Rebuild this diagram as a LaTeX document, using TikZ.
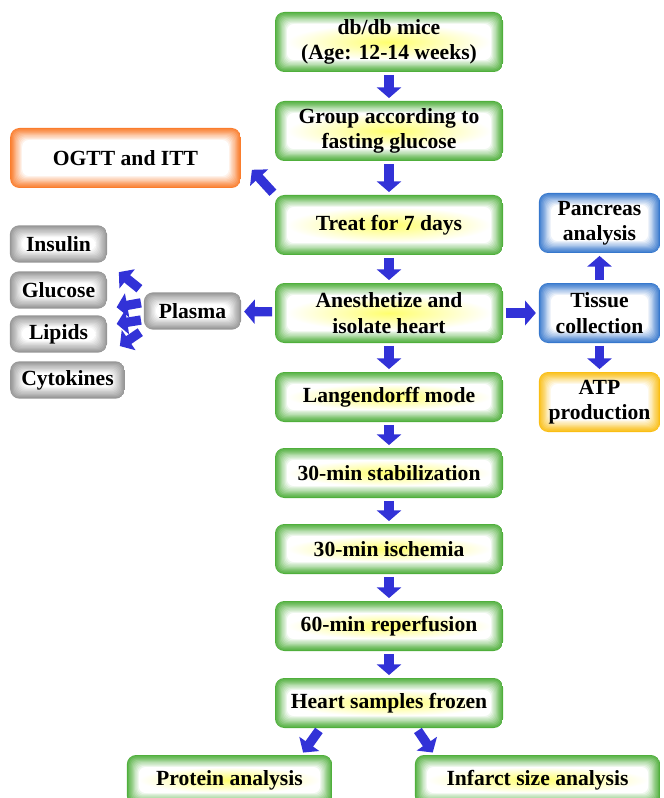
\documentclass[tikz,border=0pt]{standalone}
\usepackage{fontspec}
\setmainfont{Liberation Serif}
\usetikzlibrary{arrows.meta,calc}
\definecolor{boxgreen}{RGB}{80,175,60}
\definecolor{boxorange}{RGB}{250,125,45}
\definecolor{boxblue}{RGB}{55,120,205}
\definecolor{boxgray}{RGB}{150,150,150}
\definecolor{boxgold}{RGB}{250,190,20}
\definecolor{arrowblue}{RGB}{50,50,215}
\definecolor{glowyellow}{RGB}{255,255,110}
\tikzset{glowfill/.style 2 args={path picture={
    \fill[#1] (path picture bounding box.south west) rectangle (path picture bounding box.north east);
    \foreach \k in {1,...,10}{
        \pgfmathsetmacro\mix{100-10*\k}
        \fill[#1!\mix!white, rounded corners=5pt] ($(path picture bounding box.south west)+(\k*0.9pt,\k*0.9pt)$) rectangle ($(path picture bounding box.north east)-(\k*0.9pt,\k*0.9pt)$);
    }
    \shade[inner color=#2, outer color=white] ($(path picture bounding box.south west)+(9pt,9pt)$) rectangle ($(path picture bounding box.north east)-(9pt,9pt)$);
}}}
\tikzstyle{line} = [draw=arrowblue, line width=7pt, -{Triangle[length=8pt,width=18pt]}, shorten <=2pt, shorten >=2pt]
\tikzstyle{box} = [fill=white, rounded corners=7pt, align=center, inner sep=0pt, font=\bfseries\fontsize{16.2}{19}\selectfont]
\tikzstyle{stage} = [box, glowfill={boxgreen}{glowyellow}, minimum width=171pt, minimum height=45pt]
\tikzstyle{shortstage} = [stage, minimum height=37.5pt]
\tikzstyle{sample} = [box, glowfill={boxgray}{white}, minimum width=73pt, minimum height=28pt]
\tikzstyle{organ} = [box, glowfill={boxblue}{white}, minimum width=91pt, minimum height=45pt]

\begin{document}
\begin{tikzpicture}[x=0.75pt, y=-0.75pt]
    \useasboundingbox (0,0) rectangle (663,798);
    % main flow
    \node[stage] (mice) at (389,42) {db/db mice\\(Age: 12-14 weeks)};
    \node[stage] (group) at (389,131) {Group according to\\fasting glucose};
    \node[stage] (treat) at (389,225) {Treat for 7 days};
    \node[stage] (anesth) at (389,313) {Anesthetize and\\isolate heart};
    \node[shortstage] (lang) at (389,397) {Langendorff mode};
    \node[shortstage] (stab) at (389,473) {30-min stabilization};
    \node[shortstage] (isch) at (389,549) {30-min ischemia};
    \node[shortstage] (reper) at (389,626) {60-min reperfusion};
    \node[shortstage] (frozen) at (389,703) {Heart samples frozen};
    \node[shortstage, minimum width=154pt] (protein) at (229.5,780) {Protein analysis};
    \node[shortstage, minimum width=184pt] (infarct) at (537.5,780) {Infarct size analysis};
    % left side
    \node[box, glowfill={boxorange}{white}, minimum width=173pt, minimum height=45pt] (ogtt) at (125.5,158) {OGTT and ITT};
    \node[sample] (plasma) at (192.5,311) {Plasma};
    \node[sample] (insulin) at (58.5,244) {Insulin};
    \node[sample] (glucose) at (58.5,290) {Glucose};
    \node[sample] (lipids) at (58.5,334) {Lipids};
    \node[sample, minimum width=86pt] (cyto) at (67.5,380) {Cytokines};
    % right side
    \node[organ] (pancreas) at (599.5,223) {Pancreas\\analysis};
    \node[organ] (tissue) at (599.5,313) {Tissue\\collection};
    \node[box, glowfill={boxgold}{white}, minimum width=91pt, minimum height=45pt] (atp) at (599.5,402) {ATP\\production};

    \path[line] (mice) -- (group);
    \path[line] (group) -- (treat);
    \path[line, shorten >=12pt] (treat.north west) -- (ogtt.east);
    \path[line] (treat) -- (anesth);
    \path[line] (anesth) -- (plasma);
    \path[line] (anesth) -- (tissue);
    \path[line] (tissue) -- (pancreas);
    \path[line] (tissue) -- (atp);
    \path[line, shorten <=4pt, shorten >=11pt] (plasma.north west) -- (insulin.south east);
    \path[line, shorten <=2pt, shorten >=7pt] (plasma.170) -- (glucose.south east);
    \path[line, shorten <=2pt, shorten >=7pt] (plasma.190) -- (lipids.10);
    \path[line, shorten <=3pt, shorten >=20pt] (plasma.south west) -- (cyto.32);
    \path[line] (anesth) -- (lang);
    \path[line] (lang) -- (stab);
    \path[line] (stab) -- (isch);
    \path[line] (isch) -- (reper);
    \path[line] (reper) -- (frozen);
    \path[line] ($(frozen.south west)!0.2!(frozen.south east)$) -- ($(protein.north east)!0.15!(protein.north west)$);
    \path[line] ($(frozen.south west)!0.62!(frozen.south east)$) -- ($(infarct.north west)!0.08!(infarct.north east)$);
\end{tikzpicture}
\end{document}
